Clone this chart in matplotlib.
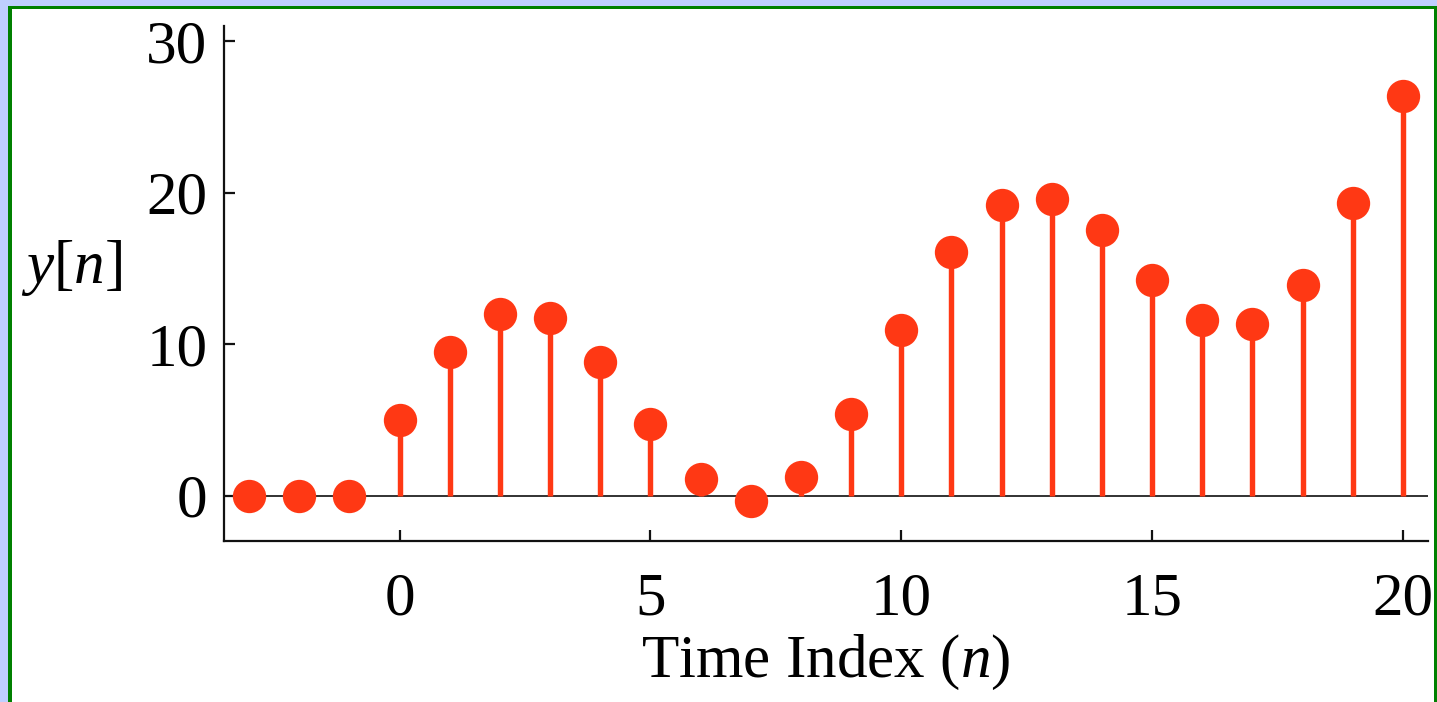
import matplotlib
matplotlib.use("Agg")
import matplotlib.pyplot as plt
from matplotlib.patches import Rectangle

plt.rcParams["font.family"] = ["Liberation Serif", "DejaVu Serif"]
plt.rcParams["mathtext.fontset"] = "custom"
plt.rcParams["mathtext.rm"] = "Liberation Serif"
plt.rcParams["mathtext.it"] = "Liberation Serif:italic"

# Discrete-time output sequence y[n]
n_values = list(range(-3, 21))
y_values = [0.0, 0.0, 0.0, 5.0, 9.5, 12.0, 11.7, 8.8, 4.7, 1.1, -0.35, 1.2,
            5.4, 10.9, 16.1, 19.2, 19.6, 17.5, 14.2, 11.6, 11.3, 13.9, 19.3, 26.4]
x_ticks = [0, 5, 10, 15, 20]
y_ticks = [0, 10, 20, 30]

W, H, DPI = 1437, 702, 100
fig = plt.figure(figsize=(W / DPI, H / DPI), dpi=DPI, facecolor="white")

# Frame around the figure
blue = "#BFCFFF"
green = "#008000"
fig.patches.append(Rectangle((0, 0), 8 / W, 1, transform=fig.transFigure,
                             facecolor=blue, edgecolor="none", zorder=0))
fig.patches.append(Rectangle((0, 1 - 6 / H), 1, 6 / H, transform=fig.transFigure,
                             facecolor=blue, edgecolor="none", zorder=0))
fig.patches.append(Rectangle((8 / W, 0), 4 / W, 1 - 6 / H, transform=fig.transFigure,
                             facecolor=green, edgecolor="none", zorder=0))
fig.patches.append(Rectangle((8 / W, 1 - 9 / H), 1 - 8 / W, 3 / H, transform=fig.transFigure,
                             facecolor=green, edgecolor="none", zorder=0))
fig.patches.append(Rectangle((1 - 3 / W, 0), 3 / W, 1 - 6 / H, transform=fig.transFigure,
                             facecolor=green, edgecolor="none", zorder=0))

ax = fig.add_axes([224 / W, (H - 541) / H, (1428 - 224) / W, (541 - 26) / H])
ax.set_facecolor("none")

stem_color = "#FF3814"
ax.axhline(0, color="#222222", lw=1.3, zorder=1)
markerline, stemlines, baseline = ax.stem(n_values, y_values, basefmt=" ")
plt.setp(stemlines, color=stem_color, linewidth=3.9, zorder=2)
plt.setp(markerline, color=stem_color, marker="o", markersize=24, zorder=3,
         markeredgewidth=0)

ax.set_xlim(-3.5, 20.5)
ax.set_ylim(-3.0, 31.0)
ax.set_xticks(x_ticks)
ax.set_yticks(y_ticks)

for side in ("top", "right"):
    ax.spines[side].set_visible(False)
for side in ("left", "bottom"):
    ax.spines[side].set_linewidth(1.6)
    ax.spines[side].set_color("#111111")

ax.tick_params(direction="in", length=8, width=1.6, labelsize=44, color="#111111")
ax.tick_params(axis="x", pad=22)
ax.tick_params(axis="y", pad=12)

ax.set_xlabel("Time Index ($n$)", fontsize=44, labelpad=4)
ax.set_ylabel("$y[n]$", fontsize=44, rotation=0, ha="left", va="center")
ax.yaxis.set_label_coords(-0.1686, 0.53)

fig.savefig("out.png", dpi=DPI, facecolor="white")
